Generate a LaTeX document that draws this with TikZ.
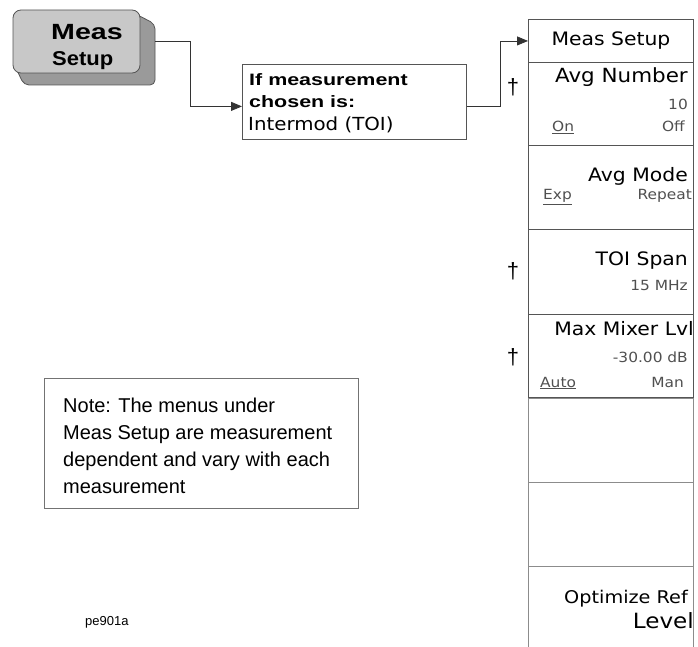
\documentclass[tikz,border=0pt]{standalone}
\usepackage{fontspec}
\setmainfont{Liberation Sans}
\newfontfamily\menufont{DejaVu Sans}[FakeStretch=1.1]
\newfontfamily\keyfont{Liberation Sans}[FakeStretch=1.3]
\newfontfamily\keyfontb{Liberation Sans}[FakeStretch=1.1]
\newfontfamily\boxfont{Liberation Sans}[FakeStretch=1.3]
\usetikzlibrary{arrows.meta,calc}
\definecolor{keyface}{HTML}{C8C8C8}
\definecolor{keyshade}{HTML}{9A9A9A}
\definecolor{lineg}{HTML}{555555}
\definecolor{smallg}{HTML}{505050}
\tikzset{
  conn/.style={draw=black!80, line width=0.8pt, -{Triangle[length=11pt,width=9pt]}},
  cell/.style={draw=lineg, line width=0.9pt, anchor=north west, minimum width=165pt, inner sep=0pt},
  lowcell/.style={draw=black!45, line width=0.8pt},
  mbig/.style={font=\menufont\fontsize{18.5}{21}\selectfont, inner sep=0pt},
  msmall/.style={font=\menufont\fontsize{14}{16}\selectfont, text=smallg, inner sep=0pt},
  dagg/.style={font=\fontsize{22}{24}\selectfont, inner sep=0pt, anchor=base},
  bxtext/.style={font=\boxfont\bfseries\fontsize{16.5}{19}\selectfont, inner sep=0pt, anchor=base west},
}
\begin{document}
\begin{tikzpicture}[x=1pt,y=-1pt]
\fill[white] (0,0) rectangle (698,647);
\useasboundingbox (0,0) rectangle (698,647);

% hardkey with shadow
\filldraw[fill=keyshade, draw=lineg, line width=0.8pt, rounded corners=5pt]
  (128,10) -- (155,24) -- (155,85) -- (24,85) -- (13,62) -- cycle;
\node[draw=lineg, fill=keyface, line width=0.8pt, rounded corners=8pt,
      minimum width=127pt, minimum height=63pt, inner sep=0pt] (k) at (76.5,41.5) {};
\node[font=\keyfont\bfseries\fontsize{22}{24}\selectfont, inner sep=0pt, anchor=base west] (k1) at (51,40) {Meas};
\node[font=\keyfontb\bfseries\fontsize{20}{22}\selectfont, inner sep=0pt, anchor=base west] (k2) at (52,66) {Setup};

% condition box
\node[draw=lineg, line width=0.8pt, anchor=north west, minimum width=224pt, minimum height=75pt, inner sep=0pt] (b) at (242,64) {};
\node[bxtext] (b1) at (249,86) {If measurement};
\node[bxtext] (b2) at (249,108) {chosen is:};
\node[font=\menufont\fontsize{18}{20}\selectfont, inner sep=0pt, anchor=base west] (b3) at (248,131) {Intermod (TOI)};

% connectors
\draw[conn] ([xshift=15pt]k.east) -- ++(35,0) |- ([yshift=-4.5pt]b.west);

% menu panel
\node[cell, minimum height=43pt, mbig] (m0) at (528,19) {Meas Setup};
\node[cell, minimum height=83pt] (m1) at (528,62) {};
\node[cell, minimum height=84pt] (m2) at (528,145) {};
\node[cell, minimum height=85pt] (m3) at (528,229) {};
\node[cell, minimum height=83pt] (m4) at (528,314) {};
\draw[conn] ([yshift=-4.5pt]b.east) -- ++(34,0) |- (m0.west);

\node[mbig, anchor=base east] (t1) at (688,83) {\fontsize{19.5}{21}\selectfont Avg Number};
\node[msmall, anchor=base east] (t1a) at (688,110) {10};
\node[msmall, anchor=base west] (t1b) at (552,132) {\underline{On}};
\node[msmall, anchor=base east] (t1c) at (685,132) {Off};

\node[mbig, anchor=base east] (t2) at (688,182) {Avg Mode};
\node[msmall, anchor=base west] (t2a) at (543,200) {\underline{Exp}};
\node[msmall, anchor=base east] (t2b) at (692,200) {Repeat};

\node[mbig, anchor=base east] (t3) at (688,265) {TOI Span};
\node[msmall, anchor=base east] (t3a) at (688,290) {15 MHz};

\node[mbig, anchor=base east] (t4) at (694,335) {Max Mixer Lvl};
\node[msmall, anchor=base east] (t4a) at (688,362) {-30.00 dB};
\node[msmall, anchor=base west] (t4b) at (540,387) {\underline{Auto}};
\node[msmall, anchor=base east] (t4c) at (684,387) {Man};

% lower panel
\draw[lowcell] (528,398) rectangle (693,482);
\draw[lowcell] (528,482) rectangle (693,566);
\draw[lowcell] (528,647) -- (528,566) -- (693,566) -- (693,647);
\node[font=\menufont\fontsize{17.5}{20}\selectfont, inner sep=0pt, anchor=base east] (t5) at (688,603) {Optimize Ref};
\node[font=\menufont\fontsize{21}{23}\selectfont, inner sep=0pt, anchor=base east] (t5b) at (694,628) {Level};

% daggers
\node[dagg] (d1) at (513,95) {†};
\node[dagg] (d2) at (513,278) {†};
\node[dagg] (d3) at (513,364) {†};

% note
\node[draw=black!55, line width=0.8pt, anchor=north west, minimum width=314pt, minimum height=130pt, inner sep=0pt] (note) at (44,378) {};
\node[font=\fontsize{20}{27}\selectfont, align=left, inner sep=0pt, anchor=north west] (notetxt) at (63,398)
  {Note: The menus under\\Meas Setup are measurement\\dependent and vary with each\\measurement};

\node[font=\fontsize{13}{15}\selectfont, inner sep=0pt, anchor=base west] (pe) at (85,625) {pe901a};
\end{tikzpicture}
\end{document}
